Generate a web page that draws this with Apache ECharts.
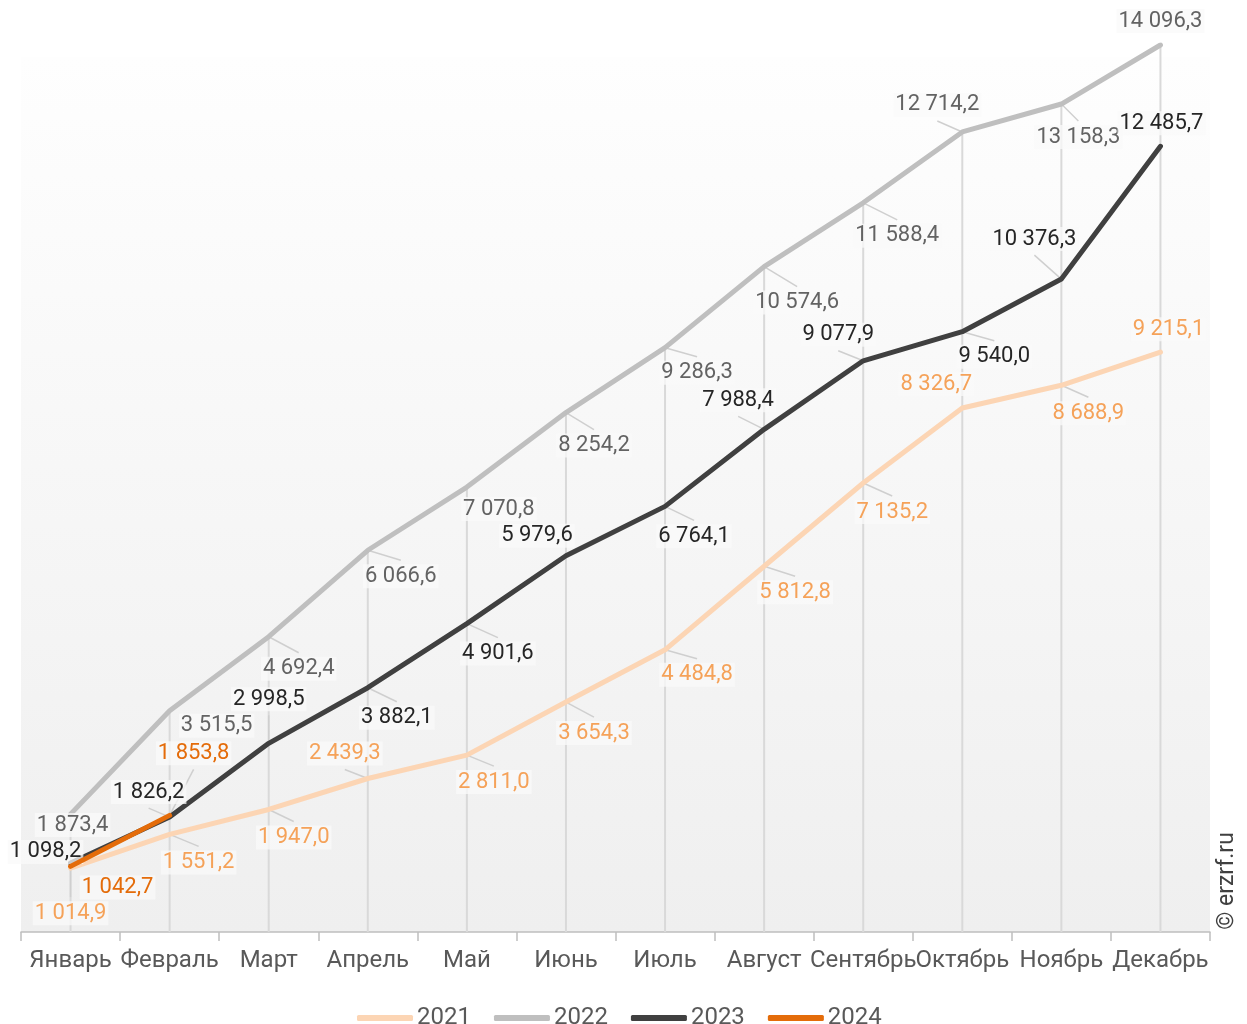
<!DOCTYPE html>
<html>
<head>
<meta charset="utf-8">
<script src="https://cdn.jsdelivr.net/npm/echarts@6/dist/echarts.min.js"></script>
<style>
  html, body { margin: 0; padding: 0; background: #ffffff; }
  #chart { width: 1247px; height: 1024px; }
</style>
</head>
<body>
<div id="chart"></div>
<script>
// Month labels along the category axis
const months = ['Январь', 'Февраль', 'Март', 'Апрель', 'Май', 'Июнь', 'Июль', 'Август', 'Сентябрь', 'Октябрь', 'Ноябрь', 'Декабрь'];

// Cumulative values per year
const y2021 = [1014.9, 1551.2, 1947.0, 2439.3, 2811.0, 3654.3, 4484.8, 5812.8, 7135.2, 8326.7, 8688.9, 9215.1];
const y2022 = [1873.4, 3515.5, 4692.4, 6066.6, 7070.8, 8254.2, 9286.3, 10574.6, 11588.4, 12714.2, 13158.3, 14096.3];
const y2023 = [1098.2, 1826.2, 2998.5, 3882.1, 4901.6, 5979.6, 6764.1, 7988.4, 9077.9, 9540.0, 10376.3, 12485.7];
const y2024 = [1042.7, 1853.8];

const seriesNames = ['2021', '2022', '2023', '2024'];

// Label offsets from each point (label centre relative to the point, px)
const labelShift = {
  '2021': [[0, 45], [29, 28], [25, 28], [-23, -25], [27, 27], [28, 31], [32, 25], [31, 26], [29, 29], [-26, -24], [27, 28], [8, -23]],
  '2022': [[2, 11], [47, 15], [30, 32], [33, 26], [32, 22], [28, 33], [32, 25], [33, 36], [34, 33], [-25, -27], [17, 33], [0, -24]],
  '2023': [[-25, -11], [-21, -25], [0, -44], [29, 30], [31, 30], [-29, -20], [29, 30], [-26, -29], [-25, -26], [32, 25], [-27, -40], [1, -23]],
  '2024': [[47, 21], [24, -62]]
};

const lineColors = { '2021': '#fcd5b4', '2022': '#bfbfbf', '2023': '#404040', '2024': '#e46c0a' };
const labelColors = { '2021': '#f5a259', '2022': '#636363', '2023': '#262626', '2024': '#e46c0a' };

const FONT = 'Roboto, "Noto Sans", sans-serif';
const LABEL_SIZE = 22;
const LABEL_H = 26;

// Russian number format: space grouping, comma decimal
function fmt(v) {
  const parts = v.toFixed(1).split('.');
  const intPart = parts[0].replace(/\B(?=(\d{3})+(?!\d))/g, ' ');
  return intPart + ',' + parts[1];
}

const dataByName = { '2021': y2021, '2022': y2022, '2023': y2023, '2024': y2024 };

// Height of the vertical drop line at each month: the highest point of that month
const dropHeights = months.map((_, i) =>
  Math.max(...seriesNames.map(n => dataByName[n][i] !== undefined ? dataByName[n][i] : 0))
);

// Points that get a leader line: [monthIndex, value, seriesIndex]
const leaderPoints = [];
seriesNames.forEach((n, s) => dataByName[n].forEach((v, i) => leaderPoints.push([i, v, s])));

// Text measurement for leader line end points
const measureCtx = document.createElement('canvas').getContext('2d');
measureCtx.font = LABEL_SIZE + 'px ' + FONT;

function renderLeader(params, api) {
  const i = api.value(0);
  const v = api.value(1);
  const name = seriesNames[api.value(2)];
  const p = api.coord([i, v]);
  const s = labelShift[name][i];
  const w = measureCtx.measureText(fmt(v)).width + 4;
  const gap = Math.abs(s[1]) - LABEL_H / 2;
  if (Math.abs(s[0]) >= w / 2 || gap < 12) return null;
  const sign = s[1] > 0 ? 1 : -1;
  const end = [p[0] + s[0], p[1] + sign * (Math.abs(s[1]) - LABEL_H / 2 - 3)];
  return {
    type: 'line',
    shape: { x1: p[0], y1: p[1], x2: end[0], y2: end[1] },
    style: { stroke: '#cfcfcf', lineWidth: 1.5 },
    silent: true
  };
}

const lineSeries = seriesNames.map((name, k) => ({
  name: name,
  type: 'line',
  data: dataByName[name],
  z: 3 + k,
  symbol: 'circle',
  symbolSize: 2,
  showSymbol: true,
  silent: true,
  lineStyle: { color: lineColors[name], width: 5, cap: 'round', join: 'round' },
  itemStyle: { color: lineColors[name] },
  label: {
    show: true,
    position: 'inside',
    formatter: p => fmt(p.value),
    color: labelColors[name],
    fontFamily: FONT,
    fontSize: LABEL_SIZE,
    backgroundColor: 'rgba(250,250,250,0.75)',
    padding: [1, 2]
  },
  labelLayout: function (p) {
    const s = labelShift[name][p.dataIndex];
    return { dx: s[0], dy: s[1] };
  }
}));

const chart = echarts.init(document.getElementById('chart'), null, { renderer: 'canvas' });

chart.setOption({
  animation: false,
  backgroundColor: '#ffffff',
  textStyle: { fontFamily: FONT },
  graphic: [
    {
      type: 'rect',
      z: -10,
      shape: { x: 21, y: 57, width: 1189, height: 875 },
      style: {
        fill: new echarts.graphic.LinearGradient(0, 0, 0, 1, [
          { offset: 0, color: '#fefefe' },
          { offset: 1, color: '#efefef' }
        ])
      },
      silent: true
    },
    {
      type: 'text',
      x: 1227,
      y: 881,
      rotation: Math.PI / 2,
      style: {
        text: '© erzrf.ru',
        font: '23px ' + FONT,
        fill: '#404040',
        align: 'center',
        verticalAlign: 'middle'
      },
      silent: true
    }
  ],
  legend: {
    data: seriesNames,
    left: 352,
    top: 1001,
    itemWidth: 56,
    itemHeight: 6,
    itemGap: 23,
    icon: 'roundRect',
    textStyle: { color: '#595959', fontSize: 24, fontFamily: FONT, padding: [0, 0, 0, -1] },
    selectedMode: false
  },
  grid: { left: 21, right: 37, top: 45, bottom: 92, containLabel: false },
  xAxis: {
    type: 'category',
    data: months,
    boundaryGap: true,
    axisLine: { lineStyle: { color: '#bfbfbf', width: 1.5 } },
    axisTick: { show: true, length: 9, lineStyle: { color: '#bfbfbf', width: 1.5 } },
    axisLabel: { color: '#595959', fontSize: 24, fontFamily: FONT, margin: 17, interval: 0 },
    splitLine: { show: false }
  },
  yAxis: {
    type: 'value',
    min: 0,
    max: 'dataMax',
    show: false,
    splitLine: { show: false }
  },
  series: [
    {
      name: 'drop',
      type: 'bar',
      data: dropHeights,
      barWidth: 2,
      z: 1,
      silent: true,
      itemStyle: { color: '#d9d9d9' }
    },
    {
      name: 'leaders',
      type: 'custom',
      data: leaderPoints,
      z: 2,
      silent: true,
      renderItem: renderLeader
    }
  ].concat(lineSeries)
});
</script>
</body>
</html>
